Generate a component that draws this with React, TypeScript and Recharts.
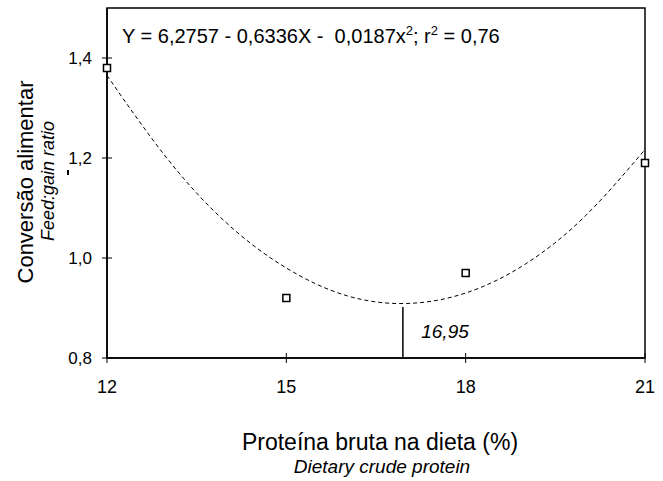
import React from "react";
import {
  ComposedChart,
  Line,
  Scatter,
  XAxis,
  YAxis,
  ReferenceLine,
} from "recharts";

// observed points (open squares)
const proteinLevels = [12, 15, 18, 21];
const feedGain = [1.38, 0.92, 0.97, 1.19];

// fitted curve
const curveX = [12, 13, 14, 15, 16, 17, 18, 19, 20, 21];
const curveY = [1.365, 1.2, 1.07, 0.98, 0.925, 0.909, 0.93, 0.988, 1.084, 1.217];

const xTicks = [12, 15, 18, 21];
const yTicks = [0.8, 1.0, 1.2, 1.4];

const optimum = 16.95;
const optimumY = 0.902;

const points = proteinLevels.map((x, i) => ({ x, y: feedGain[i] }));
const curve = curveX.map((x, i) => ({ x, y: curveY[i] }));

const W = 663;
const H = 481;
const FONT = "'Liberation Sans', Arial, sans-serif";

const fmt = (v: number) => v.toFixed(1).replace(".", ",");

const XTick = (props: any) => {
  const { x, y, payload } = props;
  return (
    <g>
      <line x1={x} x2={x} y1={y - 5} y2={y + 5} stroke="#000" strokeWidth={1} />
      <text x={x} y={y + 35} textAnchor="middle" fontSize={18} fontFamily={FONT} fill="#000">
        {payload.value}
      </text>
    </g>
  );
};

const YTick = (props: any) => {
  const { x, y, payload } = props;
  return (
    <g>
      <line x1={x - 5} x2={x + 5} y1={y} y2={y} stroke="#000" strokeWidth={1} />
      <text x={x - 15} y={y + 6} textAnchor="end" fontSize={17} fontFamily={FONT} fill="#000">
        {fmt(payload.value)}
      </text>
    </g>
  );
};

const Square = (props: any) => {
  const { cx, cy } = props;
  return <rect x={cx - 3.5} y={cy - 3.5} width={7} height={7} fill="#fff" stroke="#000" strokeWidth={1.5} />;
};

export default function App() {
  return (
    <div style={{ position: "absolute", left: 0, top: 0, width: W, height: H, background: "#fff" }}>
      <svg
        width={W}
        height={H}
        style={{ position: "absolute", left: 0, top: 0 }}
        fontFamily={FONT}
      >
        {/* plot frame */}
        <rect x={107} y={8} width={538} height={350} fill="none" stroke="#000" strokeWidth={1.5} />
        {/* stray mark left of the 1,2 tick label */}
        <rect x={67} y={170} width={2} height={5} fill="#000" />
      </svg>
      <div style={{ position: "absolute", left: 0, top: 0 }}>
        <ComposedChart width={W} height={H} margin={{ top: 8, right: 18, bottom: 0, left: 0 }}>
          <XAxis
            type="number"
            dataKey="x"
            domain={[12, 21]}
            ticks={xTicks}
            tick={<XTick />}
            tickLine={false}
            tickSize={0}
            tickMargin={0}
            axisLine={{ stroke: "#000", strokeWidth: 1.5 }}
            height={123}
          />
          <YAxis
            type="number"
            domain={[0.8, 1.5]}
            ticks={yTicks}
            tick={<YTick />}
            tickLine={false}
            tickSize={0}
            tickMargin={0}
            axisLine={{ stroke: "#000", strokeWidth: 1.5 }}
            width={107}
          />
          <Line
            data={curve}
            dataKey="y"
            type="natural"
            stroke="#000"
            strokeWidth={1}
            strokeDasharray="4 3"
            dot={false}
            activeDot={false}
            isAnimationActive={false}
          />
          <ReferenceLine
            segment={[
              { x: optimum, y: 0.8 },
              { x: optimum, y: optimumY },
            ]}
            stroke="#000"
            strokeWidth={1.5}
          />
          <Scatter data={points} dataKey="y" shape={<Square />} isAnimationActive={false} />
        </ComposedChart>
      </div>
      <svg
        width={W}
        height={H}
        style={{ position: "absolute", left: 0, top: 0, pointerEvents: "none" }}
        fontFamily={FONT}
      >
        <text x={122} y={43} fontSize={20} fill="#000">
          Y = 6,2757 - 0,6336X - {"\u00a0"}0,0187x<tspan fontSize={13} dy={-8}>2</tspan>
          <tspan dy={8}>; r</tspan>
          <tspan fontSize={13} dy={-8}>2</tspan>
          <tspan dy={8}> = 0,76</tspan>
        </text>
        <text x={445} y={338} textAnchor="middle" fontSize={19} fontStyle="italic" fill="#000">
          16,95
        </text>
        <text x={380} y={450} textAnchor="middle" fontSize={23} fill="#000">
          Proteína bruta na dieta (%)
        </text>
        <text x={382} y={473} textAnchor="middle" fontSize={19} fontStyle="italic" fill="#000">
          Dietary crude protein
        </text>
        <text
          transform="translate(33,182) rotate(-90)"
          textAnchor="middle"
          fontSize={22}
          fill="#000"
        >
          Conversão alimentar
        </text>
        <text
          transform="translate(54,181) rotate(-90)"
          textAnchor="middle"
          fontSize={18}
          fontStyle="italic"
          fill="#000"
        >
          Feed:gain ratio
        </text>
      </svg>
    </div>
  );
}
